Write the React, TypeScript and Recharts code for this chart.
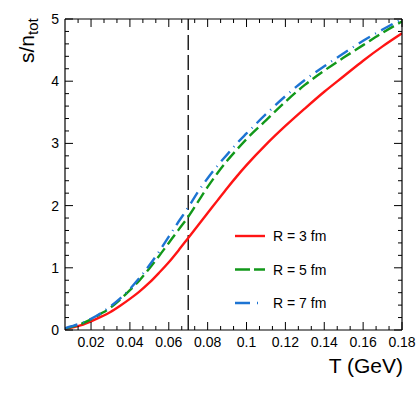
import React from 'react';
import { LineChart, Line, XAxis, YAxis, ReferenceLine } from 'recharts';

const temps = [0.0066, 0.01, 0.015, 0.02, 0.025, 0.03, 0.035, 0.04, 0.045, 0.05, 0.055, 0.06, 0.065, 0.07, 0.075, 0.08, 0.085, 0.09, 0.095, 0.1, 0.11, 0.12, 0.13, 0.14, 0.15, 0.16, 0.17, 0.18];
const r3 = [0.02, 0.04, 0.08, 0.14, 0.21, 0.29, 0.39, 0.5, 0.62, 0.76, 0.92, 1.09, 1.28, 1.48, 1.68, 1.88, 2.08, 2.28, 2.47, 2.65, 2.98, 3.28, 3.56, 3.83, 4.08, 4.33, 4.56, 4.77];
const r5 = [0.025, 0.05, 0.1, 0.17, 0.26, 0.36, 0.49, 0.64, 0.8, 0.99, 1.19, 1.4, 1.61, 1.82, 2.06, 2.3, 2.52, 2.72, 2.9, 3.07, 3.37, 3.67, 3.94, 4.17, 4.38, 4.58, 4.78, 4.96];
const r7 = [0.03, 0.06, 0.11, 0.18, 0.27, 0.38, 0.51, 0.66, 0.84, 1.04, 1.26, 1.5, 1.74, 1.97, 2.22, 2.44, 2.64, 2.82, 3.0, 3.16, 3.47, 3.76, 4.02, 4.24, 4.45, 4.65, 4.83, 5.0];

const xMajor = [0.02, 0.04, 0.06, 0.08, 0.1, 0.12, 0.14, 0.16, 0.18];
const xLabels = ['0.02', '0.04', '0.06', '0.08', '0.1', '0.12', '0.14', '0.16', '0.18'];
const yMajor = [0, 1, 2, 3, 4, 5];
const yLabels = ['0', '1', '2', '3', '4', '5'];
const seriesNames = ['R = 3 fm', 'R = 5 fm', 'R = 7 fm'];
const colors = ['#ff1414', '#12981a', '#1d74d3'];
const dashes = ['', '12 5', '13 6 1 6'];

const data = temps.map((t, i) => ({ t, r3: r3[i], r5: r5[i], r7: r7[i] }));

const xTicks: number[] = [];
for (let k = 1; k <= 27; k++) {
  const v = +(k * 0.02 / 3).toFixed(5);
  if (v > 0.0067 && v <= 0.1801) xTicks.push(v);
}
const yTicks: number[] = [];
for (let k = 0; k <= 25; k++) yTicks.push(+(k * 0.2).toFixed(2));

const FONT = '"Liberation Sans", Arial, Helvetica, sans-serif';

const isMajor = (v: number, arr: number[]) => arr.findIndex((m) => Math.abs(m - v) < 1e-4);

const BottomTick = (p: any) => {
  const idx = isMajor(p.payload.value, xMajor);
  const len = idx >= 0 ? 8 : 4;
  return (
    <g>
      <line x1={p.x} x2={p.x} y1={p.y} y2={p.y - len} stroke="#000" strokeWidth={1} />
      {idx >= 0 && (
        <text x={p.x} y={p.y + 17} textAnchor="middle" fontSize={14} fontFamily={FONT} fill="#000">
          {xLabels[idx]}
        </text>
      )}
    </g>
  );
};
const TopTick = (p: any) => {
  const idx = isMajor(p.payload.value, xMajor);
  const len = idx >= 0 ? 8 : 4;
  return <line x1={p.x} x2={p.x} y1={p.y} y2={p.y + len} stroke="#000" strokeWidth={1} />;
};
const LeftTick = (p: any) => {
  const idx = isMajor(p.payload.value, yMajor);
  const len = idx >= 0 ? 8 : 4;
  return (
    <g>
      <line x1={p.x} x2={p.x + len} y1={p.y} y2={p.y} stroke="#000" strokeWidth={1} />
      {idx >= 0 && (
        <text x={p.x - 6} y={p.y + 5} textAnchor="end" fontSize={14} fontFamily={FONT} fill="#000">
          {yLabels[idx]}
        </text>
      )}
    </g>
  );
};
const RightTick = (p: any) => {
  const idx = isMajor(p.payload.value, yMajor);
  const len = idx >= 0 ? 8 : 4;
  return <line x1={p.x} x2={p.x - len} y1={p.y} y2={p.y} stroke="#000" strokeWidth={1} />;
};

export default function App() {
  const W = 416;
  const H = 397;
  return (
    <div style={{ position: 'absolute', left: 0, top: 0, width: W, height: H, background: '#fff' }}>
      <LineChart width={W} height={H} data={data} margin={{ top: 9, right: 4, bottom: 37, left: 35 }}>
        <XAxis xAxisId="b" dataKey="t" type="number" domain={[0.0066, 0.18]} allowDataOverflow
          ticks={xTicks} interval={0} height={30} tickSize={0} tickMargin={0} tick={<BottomTick />}
          axisLine={{ stroke: '#000', strokeWidth: 1.2 }} tickLine={false} orientation="bottom" />
        <XAxis xAxisId="t" dataKey="t" type="number" domain={[0.0066, 0.18]} allowDataOverflow
          ticks={xTicks} interval={0} height={10} tickSize={0} tickMargin={0} tick={<TopTick />}
          axisLine={{ stroke: '#000', strokeWidth: 1.2 }} tickLine={false} orientation="top" />
        <YAxis yAxisId="l" type="number" domain={[0, 5]} allowDataOverflow ticks={yTicks} interval={0}
          width={30} tickSize={0} tickMargin={0} tick={<LeftTick />}
          axisLine={{ stroke: '#000', strokeWidth: 1.2 }} tickLine={false} orientation="left" />
        <YAxis yAxisId="r" type="number" domain={[0, 5]} allowDataOverflow ticks={yTicks} interval={0}
          width={10} tickSize={0} tickMargin={0} tick={<RightTick />}
          axisLine={{ stroke: '#000', strokeWidth: 1.2 }} tickLine={false} orientation="right" />
        <ReferenceLine xAxisId="b" yAxisId="l" x={0.07} stroke="#000" strokeWidth={1.3} strokeDasharray="15 5" />
        {['r3', 'r5', 'r7'].map((k, i) => (
          <Line key={k} xAxisId="b" yAxisId="l" dataKey={k} type="monotone" stroke={colors[i]}
            strokeWidth={2.4} strokeDasharray={dashes[i] || undefined} dot={false} isAnimationActive={false} />
        ))}
      </LineChart>
      <svg width={W} height={H} style={{ position: 'absolute', left: 0, top: 0, pointerEvents: 'none' }}>
        <text transform="translate(34,63) rotate(-90)" fontSize={21} fontFamily={FONT} fill="#000">
          s/n<tspan fontSize={15} dy={4}>tot</tspan>
        </text>
        <text x={403} y={373} textAnchor="end" fontSize={21} fontFamily={FONT} fill="#000">T (GeV)</text>
        {seriesNames.map((n, i) => {
          const y = 236 + i * 33.5;
          return (
            <g key={n}>
              <line x1={235} x2={265} y1={y} y2={y} stroke={colors[i]} strokeWidth={2.4}
                strokeDasharray={i === 1 ? '15 4' : i === 2 ? '15 7 1 7' : undefined} />
              <text x={273} y={y + 5} fontSize={14} fontFamily={FONT} fill="#000">{n}</text>
            </g>
          );
        })}
      </svg>
    </div>
  );
}
